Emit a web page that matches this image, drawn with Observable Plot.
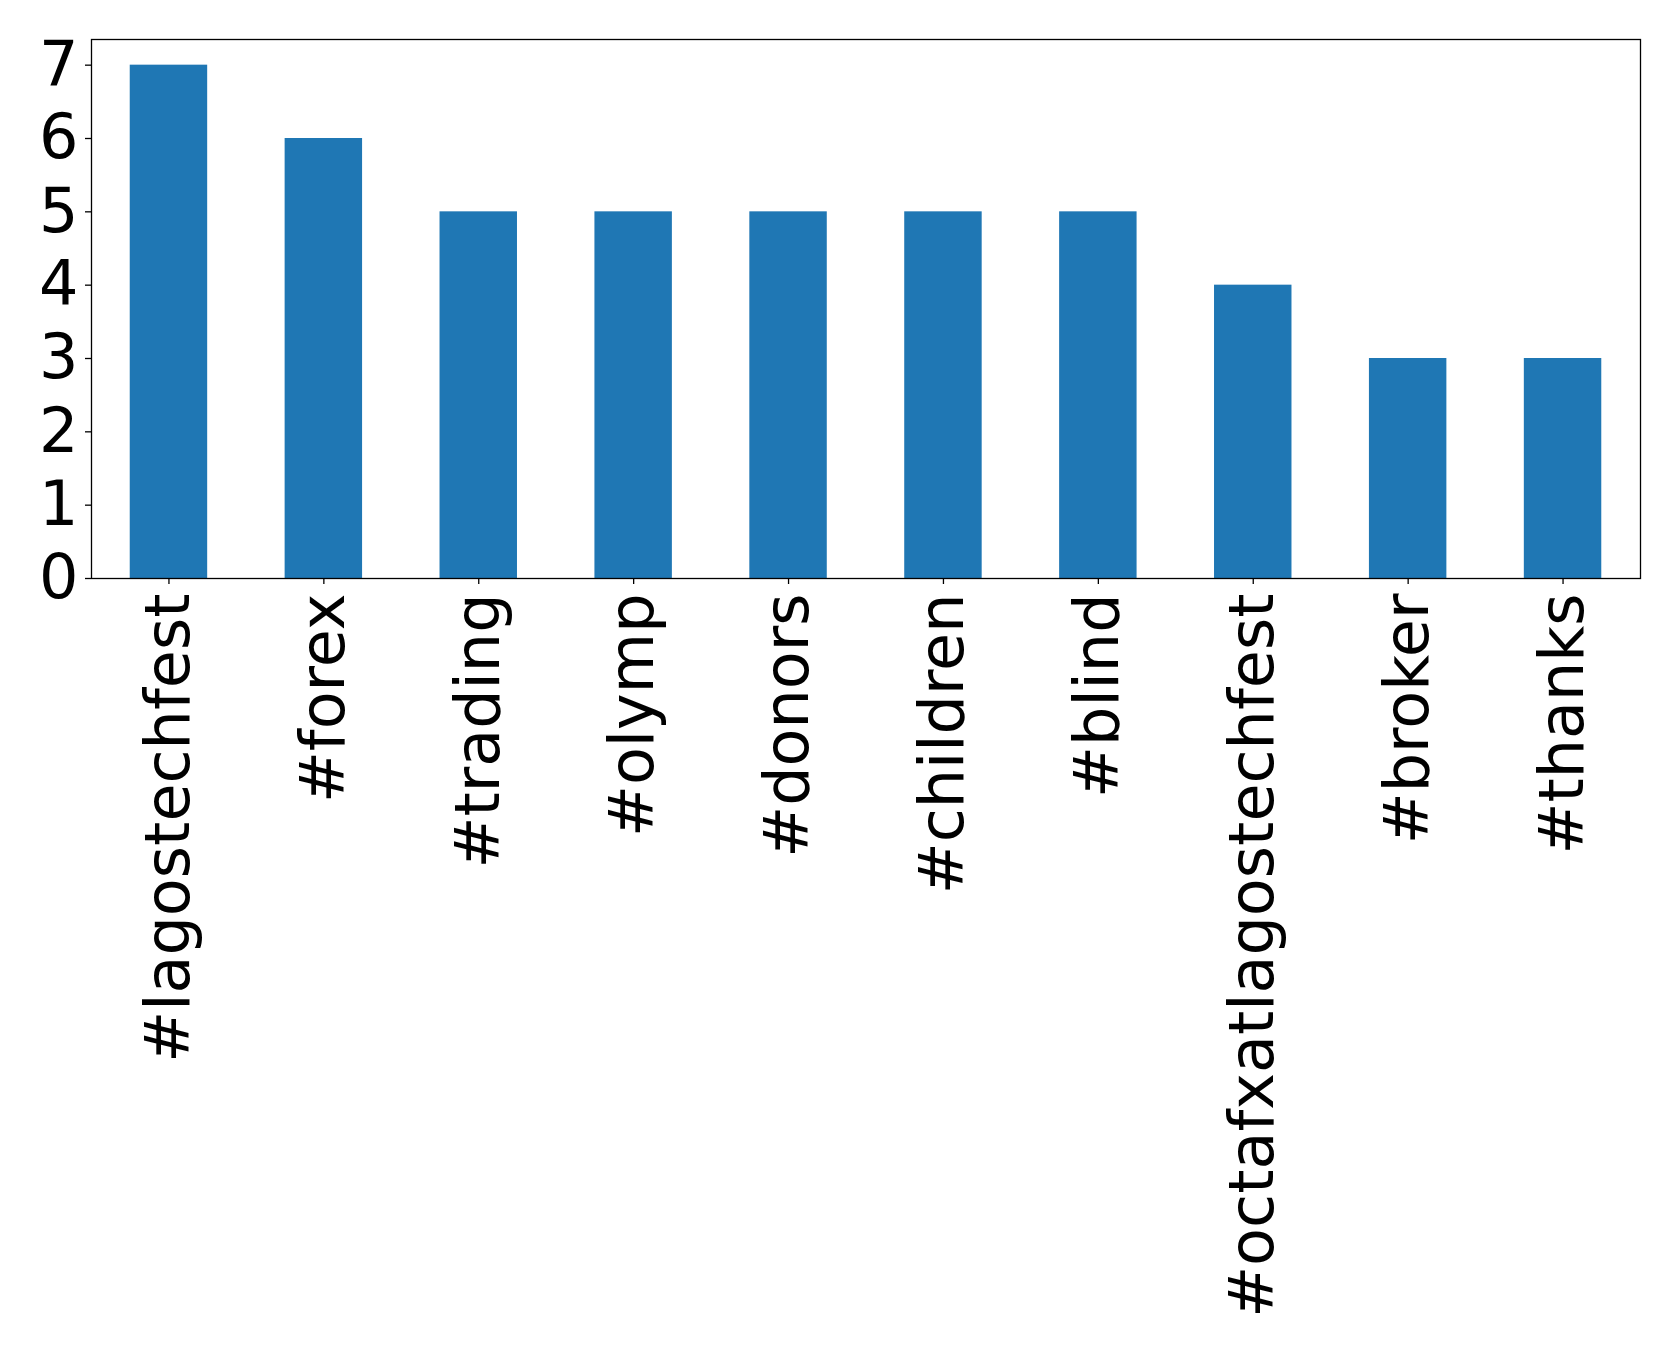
<!DOCTYPE html>
<html>
<head>
<meta charset="utf-8">
<script src="https://cdn.jsdelivr.net/npm/d3@7"></script>
<script src="https://cdn.jsdelivr.net/npm/@observablehq/plot@0.6"></script>
<style>
  html, body { margin: 0; padding: 0; background: #fff; }
  #chart { width: 1679px; height: 1358px; }
</style>
</head>
<body>
<div id="chart"></div>
<script>
const tags = ["#lagostechfest", "#forex", "#trading", "#olymp", "#donors", "#children", "#blind", "#octafxatlagostechfest", "#broker", "#thanks"];
const counts = [7, 6, 5, 5, 5, 5, 5, 4, 3, 3];
const yTicks = [0, 1, 2, 3, 4, 5, 6, 7];

const data = tags.map((t, i) => ({tag: t, count: counts[i]}));

const chart = Plot.plot({
  width: 1679,
  height: 1358,
  marginLeft: 91,
  marginRight: 39,
  marginTop: 39,
  marginBottom: 780,
  style: {fontFamily: "DejaVu Sans", color: "#000", background: "#fff", overflow: "visible"},
  x: {domain: tags, paddingInner: 0.5, paddingOuter: 0.25, round: false, label: null},
  y: {domain: [0, 7.35], label: null},
  marks: [
    Plot.barY(data, {x: "tag", y: "count", fill: "#1f77b4"}),
    Plot.axisY({ticks: yTicks, tickFormat: d => String(d), tickSize: 6, tickPadding: 7, fontSize: 62, label: null, stroke: "#000", strokeWidth: 1.3}),
    Plot.axisX({tickSize: 6, tickPadding: 9, fontSize: 62, tickRotate: -90, label: null, stroke: "#000", strokeWidth: 1.3}),
    Plot.frame({stroke: "#000", strokeWidth: 1.3})
  ]
});
document.getElementById("chart").appendChild(chart);
</script>
</body>
</html>
